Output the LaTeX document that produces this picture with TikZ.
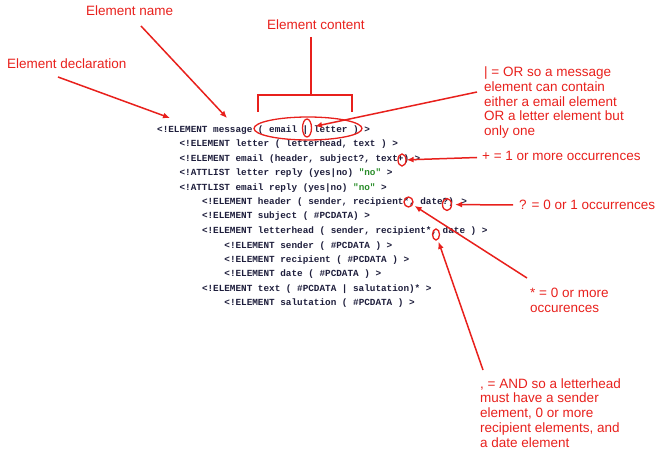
\documentclass[tikz,border=0pt]{standalone}
\usepackage{fontspec}
\setmainfont{Liberation Sans}
\newfontfamily\codefont{Liberation Mono}
\usetikzlibrary{arrows.meta,shapes.geometric}
\definecolor{annred}{RGB}{232,32,28}
\definecolor{codeink}{RGB}{30,30,60}
\definecolor{codegreen}{RGB}{40,140,40}
\tikzset{
  codeline/.style={anchor=base west,inner sep=0pt,text=codeink,font=\codefont\bfseries\fontsize{9.33}{11}\selectfont},
  annot/.style={anchor=base west,inner sep=0pt,text=annred,font=\fontsize{13.5}{14.8}\selectfont},
  ring/.style={ellipse,draw=annred,line width=1.3pt,inner sep=0pt},
  pointer/.style={draw=annred,line width=1.5pt,-{Latex[length=7pt,width=6pt]}},
  brack/.style={draw=annred,line width=1.5pt}
}
\newcommand{\ml}[1]{\begin{tabular}[t]{@{}l@{}}#1\end{tabular}}
\begin{document}
\begin{tikzpicture}[x=1pt,y=-1pt]
\useasboundingbox (0,0) rectangle (656,449);
% code lines
\node[codeline] (l1) at (157,133) {<!ELEMENT message ( email | letter ) >};
\node[codeline] (l2) at (179.4,146.5) {<!ELEMENT letter ( letterhead, text ) >};
\node[codeline] (l3) at (179.4,162) {<!ELEMENT email (header, subject?, text+) >};
\node[codeline] (l4) at (179.4,176) {<!ATTLIST letter reply (yes|no) \textcolor{codegreen}{"no"} >};
\node[codeline] (l5) at (179.4,190.5) {<!ATTLIST email reply (yes|no) \textcolor{codegreen}{"no"} >};
\node[codeline] (l6) at (201.8,204.8) {<!ELEMENT header ( sender, recipient*, date?) >};
\node[codeline] (l7) at (201.8,219) {<!ELEMENT subject ( \#PCDATA) >};
\node[codeline] (l8) at (201.8,233.7) {<!ELEMENT letterhead ( sender, recipient*, date ) >};
\node[codeline] (l9) at (224.2,248) {<!ELEMENT sender ( \#PCDATA ) >};
\node[codeline] (l10) at (224.2,262.3) {<!ELEMENT recipient ( \#PCDATA ) >};
\node[codeline] (l11) at (224.2,276.3) {<!ELEMENT date ( \#PCDATA ) >};
\node[codeline] (l12) at (201.8,291.3) {<!ELEMENT text ( \#PCDATA | salutation)* >};
\node[codeline] (l13) at (224.2,305.7) {<!ELEMENT salutation ( \#PCDATA ) >};
% annotations
\node[annot] (decl) at (7,68.5) {Element declaration};
\node[annot] (ename) at (86,15.5) {Element name};
\node[annot] (econt) at (267,30) {Element content};
\node[annot] (tor) at (484,76.5) {\ml{| = OR so a message\\element can contain\\either a email element\\OR a letter element but\\only one}};
\node[annot] (tplus) at (482,160.5) {+ = 1 or more occurrences};
\node[annot] (tq) at (519,209.5) {? = 0 or 1 occurrences};
\node[annot] (tstar) at (530,298) {\ml{* = 0 or more\\occurences}};
\node[annot] (tcomma) at (480,388) {\ml{, = AND so a letterhead\\must have a sender\\element, 0 or more\\recipient elements, and\\a date element}};
% rings
\node[ring,minimum width=108pt,minimum height=23pt] (econtent) at (308,128.5) {};
\node[ring,minimum width=9pt,minimum height=18pt] (eor) at (307,128) {};
\node[ring,minimum width=8pt,minimum height=12pt] (eplus) at (402,160) {};
\node[ring,minimum width=9pt,minimum height=12pt] (eq) at (447,204.5) {};
\node[ring,minimum width=9pt,minimum height=10pt] (estar) at (408.5,202) {};
\node[ring,minimum width=7pt,minimum height=11pt] (ecomma) at (436,234.5) {};
% bracket
\coordinate (stemtop) at (311,37);
\coordinate (stembot) at (311,95);
\coordinate (bl) at (258,112);
\coordinate (br) at (352,112);
\draw[brack] (bl) -- (bl |- stembot) -- (br |- stembot) -- (br);
\draw[brack] (stemtop) -- (stembot);
% pointers
\coordinate (sdecl) at (58,77);
\coordinate (edecl) at (170,118);
\coordinate (sname) at (141,26);
\coordinate (ename2) at (227,118);
\coordinate (sor) at (477,92);
\coordinate (splus) at (477,157.5);
\coordinate (sq) at (513,205);
\coordinate (sstar) at (527,278);
\coordinate (scomma) at (483,370);
\draw[pointer] (sdecl) -- (edecl);
\draw[pointer] (sname) -- (ename2);
\draw[pointer,shorten >=3pt] (sor) -- (eor);
\draw[pointer] (splus) -- (eplus);
\draw[pointer,shorten >=3pt] (sq) -- (eq);
\draw[pointer,shorten >=2pt] (sstar) -- (estar);
\draw[pointer,shorten >=2pt] (scomma) -- (ecomma);
\end{tikzpicture}
\end{document}
